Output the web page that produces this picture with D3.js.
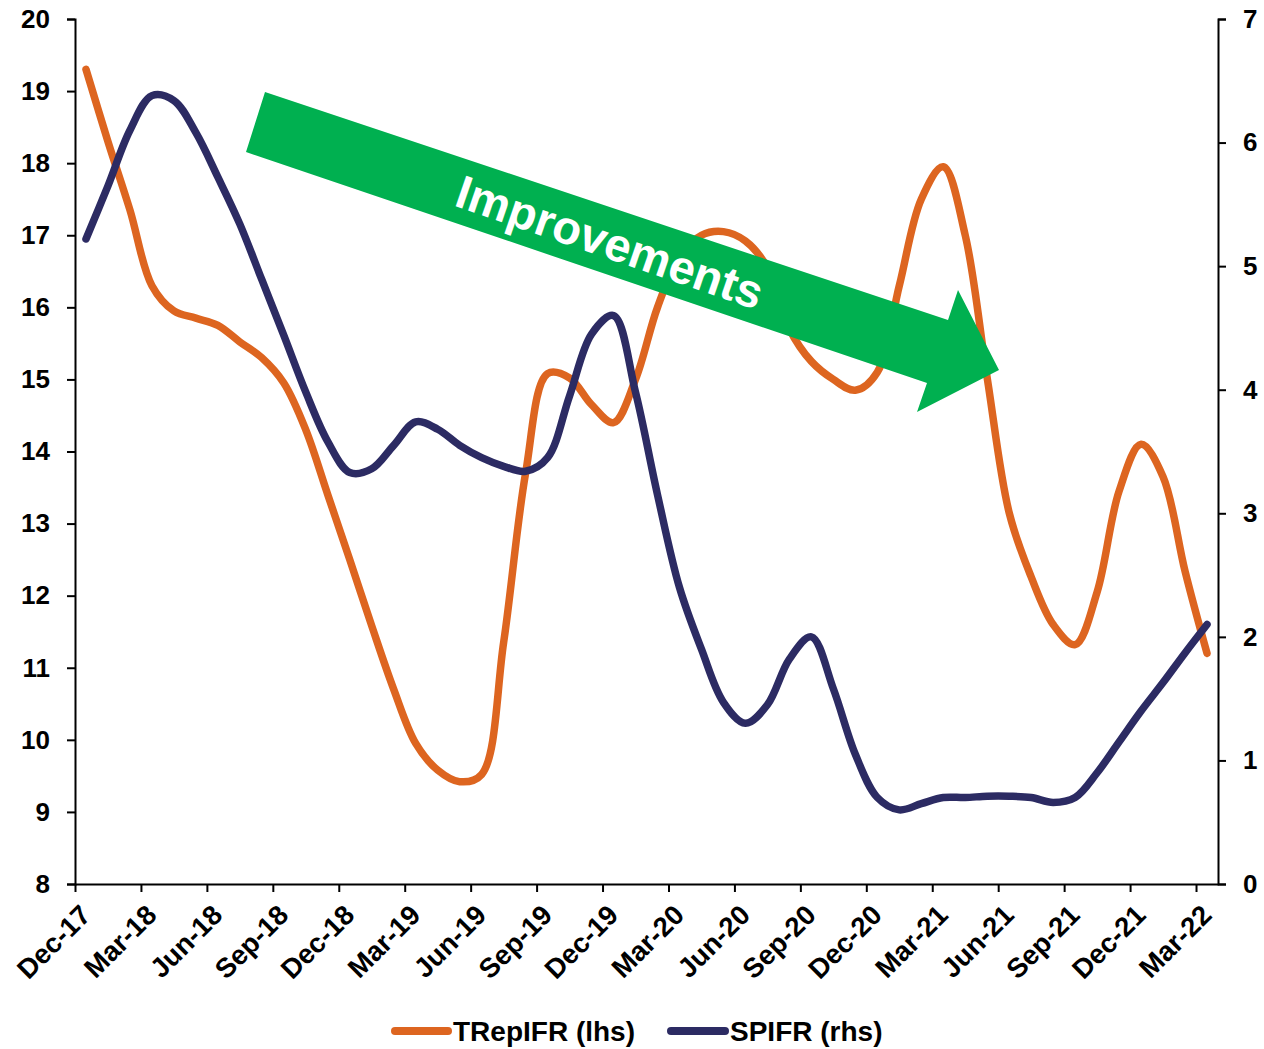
<!DOCTYPE html>
<html>
<head>
<meta charset="utf-8">
<script src="https://cdn.jsdelivr.net/npm/d3@7"></script>
<style>
  html, body { margin: 0; padding: 0; background: #fff; }
  svg { display: block; }
  text { font-family: "Liberation Sans", Arial, sans-serif; font-weight: bold; fill: #000; }
</style>
</head>
<body>
<svg id="chart" width="1264" height="1049"></svg>
<script>
// ---------------- DATA ----------------
const months = [
  "Dec-17","Jan-18","Feb-18","Mar-18","Apr-18","May-18","Jun-18","Jul-18","Aug-18","Sep-18","Oct-18","Nov-18",
  "Dec-18","Jan-19","Feb-19","Mar-19","Apr-19","May-19","Jun-19","Jul-19","Aug-19","Sep-19","Oct-19","Nov-19",
  "Dec-19","Jan-20","Feb-20","Mar-20","Apr-20","May-20","Jun-20","Jul-20","Aug-20","Sep-20","Oct-20","Nov-20",
  "Dec-20","Jan-21","Feb-21","Mar-21","Apr-21","May-21","Jun-21","Jul-21","Aug-21","Sep-21","Oct-21","Nov-21",
  "Dec-21","Jan-22","Feb-22","Mar-22"
];
// Quarterly tick labels shown on the x axis
const tickLabels = ["Dec-17","Mar-18","Jun-18","Sep-18","Dec-18","Mar-19","Jun-19","Sep-19","Dec-19",
  "Mar-20","Jun-20","Sep-20","Dec-20","Mar-21","Jun-21","Sep-21","Dec-21","Mar-22"];

// TRepIFR (lhs)
const trepifr = [
  19.30, 18.30, 17.35, 16.30, 15.95, 15.85, 15.75, 15.52, 15.30, 14.95, 14.30, 13.40,
  12.50, 11.58, 10.70,  9.95,  9.58,  9.42,  9.52, 11.35, 13.70, 15.08, 15.02, 14.65,
  14.40, 15.00, 16.00, 16.70, 17.00, 17.05, 16.92, 16.55, 15.70, 15.25, 15.00, 14.85,
  15.10, 16.30, 17.50, 17.95, 17.00, 15.02, 13.15, 12.26, 11.60, 11.32, 12.05, 13.45,
  14.10, 13.65, 12.34, 11.20
];
// SPIFR (rhs)
const spifr = [
  5.22, 5.65, 6.10, 6.38, 6.34, 6.08, 5.72, 5.34, 4.89, 4.44, 3.98, 3.58,
  3.33, 3.36, 3.55, 3.74, 3.68, 3.55, 3.45, 3.38, 3.34, 3.45, 3.95, 4.45,
  4.60, 3.98, 3.15, 2.40, 1.90, 1.47, 1.30, 1.45, 1.82, 2.00, 1.58, 1.05,
  0.70, 0.60, 0.65, 0.70, 0.70, 0.71, 0.71, 0.70, 0.66, 0.70, 0.90, 1.15,
  1.40, 1.63, 1.87, 2.10
];

const leftTicks = [8,9,10,11,12,13,14,15,16,17,18,19,20];
const rightTicks = [0,1,2,3,4,5,6,7];
const seriesNames = ["TRepIFR (lhs)", "SPIFR (rhs)"];
const annotationText = "Improvements";

// ---------------- LAYOUT ----------------
const svg = d3.select("#chart");
const L = 75, R = 1218, T = 19, B = 884;
const COL_ORANGE = "#DD6520", COL_NAVY = "#2C2B63", COL_GREEN = "#00B050";

const x = d3.scaleBand().domain(months).range([L, R]).padding(0);
const xc = m => x(m) + x.bandwidth() / 2;
const xTick = d3.scaleLinear().domain([0, months.length]).range([L, R]);
const yL = d3.scaleLinear().domain([8, 20]).range([B, T]);
const yR = d3.scaleLinear().domain([0, 7]).range([B, T]);

// ---------------- AXES ----------------
const gL = svg.append("g").attr("transform", `translate(${L},0)`)
  .call(d3.axisLeft(yL).tickValues(leftTicks).tickFormat(d3.format("d")).tickSize(8).tickPadding(17));
const gR = svg.append("g").attr("transform", `translate(${R},0)`)
  .call(d3.axisRight(yR).tickValues(rightTicks).tickFormat(d3.format("d")).tickSize(8).tickPadding(17));
const tickIdx = tickLabels.map(l => months.indexOf(l));
const gX = svg.append("g").attr("transform", `translate(0,${B})`)
  .call(d3.axisBottom(xTick).tickValues(tickIdx).tickFormat((d, i) => tickLabels[i]).tickSize(8).tickSizeOuter(0));

[gL, gR, gX].forEach(g => {
  g.selectAll("path.domain").attr("stroke", "#000").attr("stroke-width", 2);
  g.selectAll(".tick line").attr("stroke", "#000").attr("stroke-width", 2);
  g.selectAll("text").attr("font-family", "Liberation Sans, Arial, sans-serif").attr("font-weight", "bold").attr("fill", "#000");
});
gL.selectAll("text").attr("font-size", 26);
gR.selectAll("text").attr("font-size", 26);
gX.selectAll("text")
  .attr("font-size", 27.5)
  .attr("text-anchor", "end")
  .attr("dy", "0")
  .attr("transform", "translate(9,25) rotate(-45)");

// ---------------- LINES ----------------
const lineL = d3.line().x((d, i) => xc(months[i])).y(d => yL(d)).curve(d3.curveCatmullRom.alpha(0.5));
const lineR = d3.line().x((d, i) => xc(months[i])).y(d => yR(d)).curve(d3.curveCatmullRom.alpha(0.5));

svg.append("path").datum(trepifr).attr("d", lineL)
  .attr("fill", "none").attr("stroke", COL_ORANGE).attr("stroke-width", 7.5)
  .attr("stroke-linecap", "round").attr("stroke-linejoin", "round");
svg.append("path").datum(spifr).attr("d", lineR)
  .attr("fill", "none").attr("stroke", COL_NAVY).attr("stroke-width", 7.5)
  .attr("stroke-linecap", "round").attr("stroke-linejoin", "round");

// ---------------- ANNOTATION ARROW ----------------
const arrowPts = [[265,92],[948,320],[958,290],[999,370],[917,412],[927,383],[246,152]];
svg.append("polygon").attr("points", arrowPts.map(p => p.join(",")).join(" ")).attr("fill", COL_GREEN);
svg.append("text")
  .attr("transform", "translate(610,242) rotate(19)")
  .attr("text-anchor", "middle").attr("dominant-baseline", "central")
  .attr("font-size", 47).attr("font-weight", "bold").style("fill", "#fff")
  .text(annotationText);

// ---------------- LEGEND ----------------
const legend = [
  { name: seriesNames[0], color: COL_ORANGE, x0: 395, x1: 448 },
  { name: seriesNames[1], color: COL_NAVY,   x0: 671, x1: 725 }
];
const ly = 1031;
legend.forEach(d => {
  svg.append("line").attr("x1", d.x0).attr("x2", d.x1).attr("y1", ly).attr("y2", ly)
    .attr("stroke", d.color).attr("stroke-width", 8).attr("stroke-linecap", "round");
  svg.append("text").attr("x", d.x1 + 5).attr("y", ly).attr("dy", "0.36em")
    .attr("font-size", 28).text(d.name);
});
</script>
</body>
</html>
